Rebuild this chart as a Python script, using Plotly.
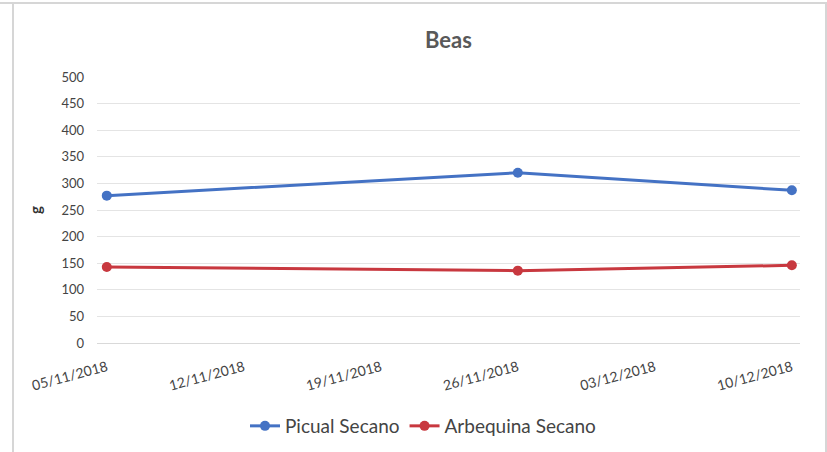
import plotly.graph_objects as go

# Sampling dates and measured weights (g)
dates = ["2018-11-05", "2018-11-26", "2018-12-10"]
picual_secano = [277, 320, 287]
arbequina_secano = [143, 136, 146]

# Axis ticks
x_tick_dates = ["2018-11-05", "2018-11-12", "2018-11-19", "2018-11-26", "2018-12-03", "2018-12-10"]
x_tick_labels = ["05/11/2018", "12/11/2018", "19/11/2018", "26/11/2018", "03/12/2018", "10/12/2018"]
y_ticks = [0, 50, 100, 150, 200, 250, 300, 350, 400, 450, 500]

BLUE = "#4472C4"
RED = "#C8383F"
TEXT = "#595959"
TICK = "#444444"
FONT = "Lato, 'Open Sans', sans-serif"

W, H = 827, 452
ML, MR, MT, MB = 97, 27, 77, 109
PW, PH = W - ML - MR, H - MT - MB


def px_x(x):
    return (x - ML) / PW


def px_y(y):
    return (H - MB - y) / PH


fig = go.Figure()
fig.add_trace(go.Scatter(
    x=dates, y=picual_secano, name="Picual Secano", mode="lines+markers",
    line=dict(color=BLUE, width=3), marker=dict(size=10, color=BLUE),
))
fig.add_trace(go.Scatter(
    x=dates, y=arbequina_secano, name="Arbequina Secano", mode="lines+markers",
    line=dict(color=RED, width=3), marker=dict(size=10, color=RED),
))

# Chart frame lines
frame = dict(type="line", xref="paper", yref="paper", layer="below",
             line=dict(color="#D6D6D6", width=2))
fig.add_shape(**frame, x0=px_x(0), x1=px_x(W), y0=px_y(3), y1=px_y(3))
fig.add_shape(**frame, x0=px_x(13), x1=px_x(13), y0=px_y(3), y1=px_y(H))
fig.add_shape(**frame, x0=px_x(826), x1=px_x(826), y0=px_y(3), y1=px_y(H))

fig.update_layout(
    width=W, height=H,
    margin=dict(l=ML, r=MR, t=MT, b=MB, autoexpand=False),
    paper_bgcolor="white", plot_bgcolor="white",
    font=dict(family=FONT, color=TEXT, size=12),
    title=dict(text="<b>Beas</b>", x=0.5, xref="paper", xanchor="center",
               y=1 - 40 / H, yanchor="middle",
               font=dict(size=22, color=TEXT, family=FONT)),
    showlegend=True,
    legend=dict(orientation="h", x=px_x(423), xanchor="center", xref="paper",
                y=px_y(426), yanchor="middle",
                font=dict(size=19, color=TICK, family=FONT),
                itemwidth=30, tracegroupgap=0),
    xaxis=dict(
        type="date", automargin=False,
        range=["2018-11-04 12:00", "2018-12-10 10:00"],
        tickmode="array", tickvals=x_tick_dates, ticktext=x_tick_labels,
        tickangle=-15, showgrid=False, zeroline=False,
        showline=True, linecolor="#D9D9D9", linewidth=1,
        ticks="", ticklabelstandoff=10,
        tickfont=dict(size=14, color=TICK),
    ),
    yaxis=dict(
        range=[0, 500], tickmode="array", tickvals=y_ticks, automargin=False,
        showgrid=True, gridcolor="#E4E4E4", gridwidth=1, zeroline=False,
        showline=False, ticks="", ticklabelstandoff=12,
        tickfont=dict(size=13, color=TICK),
        title=dict(text="<b>g</b>", standoff=16, font=dict(size=15, color="#333333")),
    ),
)

fig.write_html("out.html")
